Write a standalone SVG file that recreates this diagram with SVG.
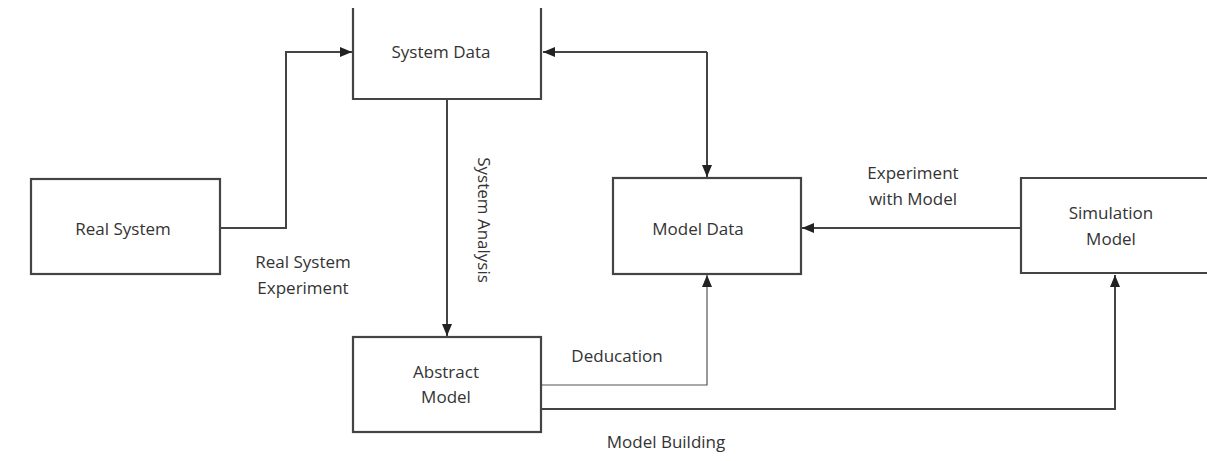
<svg xmlns="http://www.w3.org/2000/svg" width="1207" height="461" viewBox="0 0 1207 461">
<style>
.box{fill:#fff;stroke:#444;stroke-width:2.2}
.ln{fill:none;stroke:#444;stroke-width:2}
.thin{fill:none;stroke:#555;stroke-width:1.2}
text{font-family:"Open Sans","DejaVu Sans",sans-serif;font-size:17px;fill:#333;text-anchor:middle}
</style>
<defs>
<marker id="ah" viewBox="0 0 12 10" refX="12" refY="5" markerWidth="12" markerHeight="10" markerUnits="userSpaceOnUse" orient="auto">
<path d="M0,0 L12,5 L0,10 Z" fill="#222"/>
</marker>
</defs>
<rect width="1207" height="461" fill="#fff"/>
<g id="connectors">
<path class="ln" d="M220,228 H286 V52 H352" marker-end="url(#ah)"/>
<path class="ln" d="M707,52 H543" marker-end="url(#ah)"/>
<path class="ln" d="M707,52 V177" marker-end="url(#ah)"/>
<path class="ln" d="M447,99 V336" marker-end="url(#ah)"/>
<path class="ln" d="M1021,228 H802" marker-end="url(#ah)"/>
<path class="thin" d="M541,385 H707 V275" marker-end="url(#ah)"/>
<path class="ln" d="M541,409 H1115 V275" marker-end="url(#ah)"/>
</g>
<g id="system-data">
<path class="box" d="M353,8 V99 H541 V8"/>
<text x="441" y="58">System Data</text>
</g>
<g id="real-system">
<rect class="box" x="31" y="179" width="189" height="95"/>
<text x="123" y="235">Real System</text>
</g>
<g id="model-data">
<rect class="box" x="613" y="178" width="188" height="96"/>
<text x="698" y="235">Model Data</text>
</g>
<g id="simulation-model">
<path class="box" d="M1215,178 H1021 V273 H1215"/>
<text x="1111" y="219">Simulation</text>
<text x="1111" y="245">Model</text>
</g>
<g id="abstract-model">
<rect class="box" x="353" y="337" width="188" height="95"/>
<text x="446" y="378">Abstract</text>
<text x="446" y="403">Model</text>
</g>
<g id="labels">
<text x="303" y="268">Real System</text>
<text x="303" y="294">Experiment</text>
<text transform="translate(478,220) rotate(90)">System Analysis</text>
<text x="913" y="179">Experiment</text>
<text x="913" y="205">with Model</text>
<text x="617" y="362">Deducation</text>
<text x="666" y="448">Model Building</text>
</g>
</svg>
